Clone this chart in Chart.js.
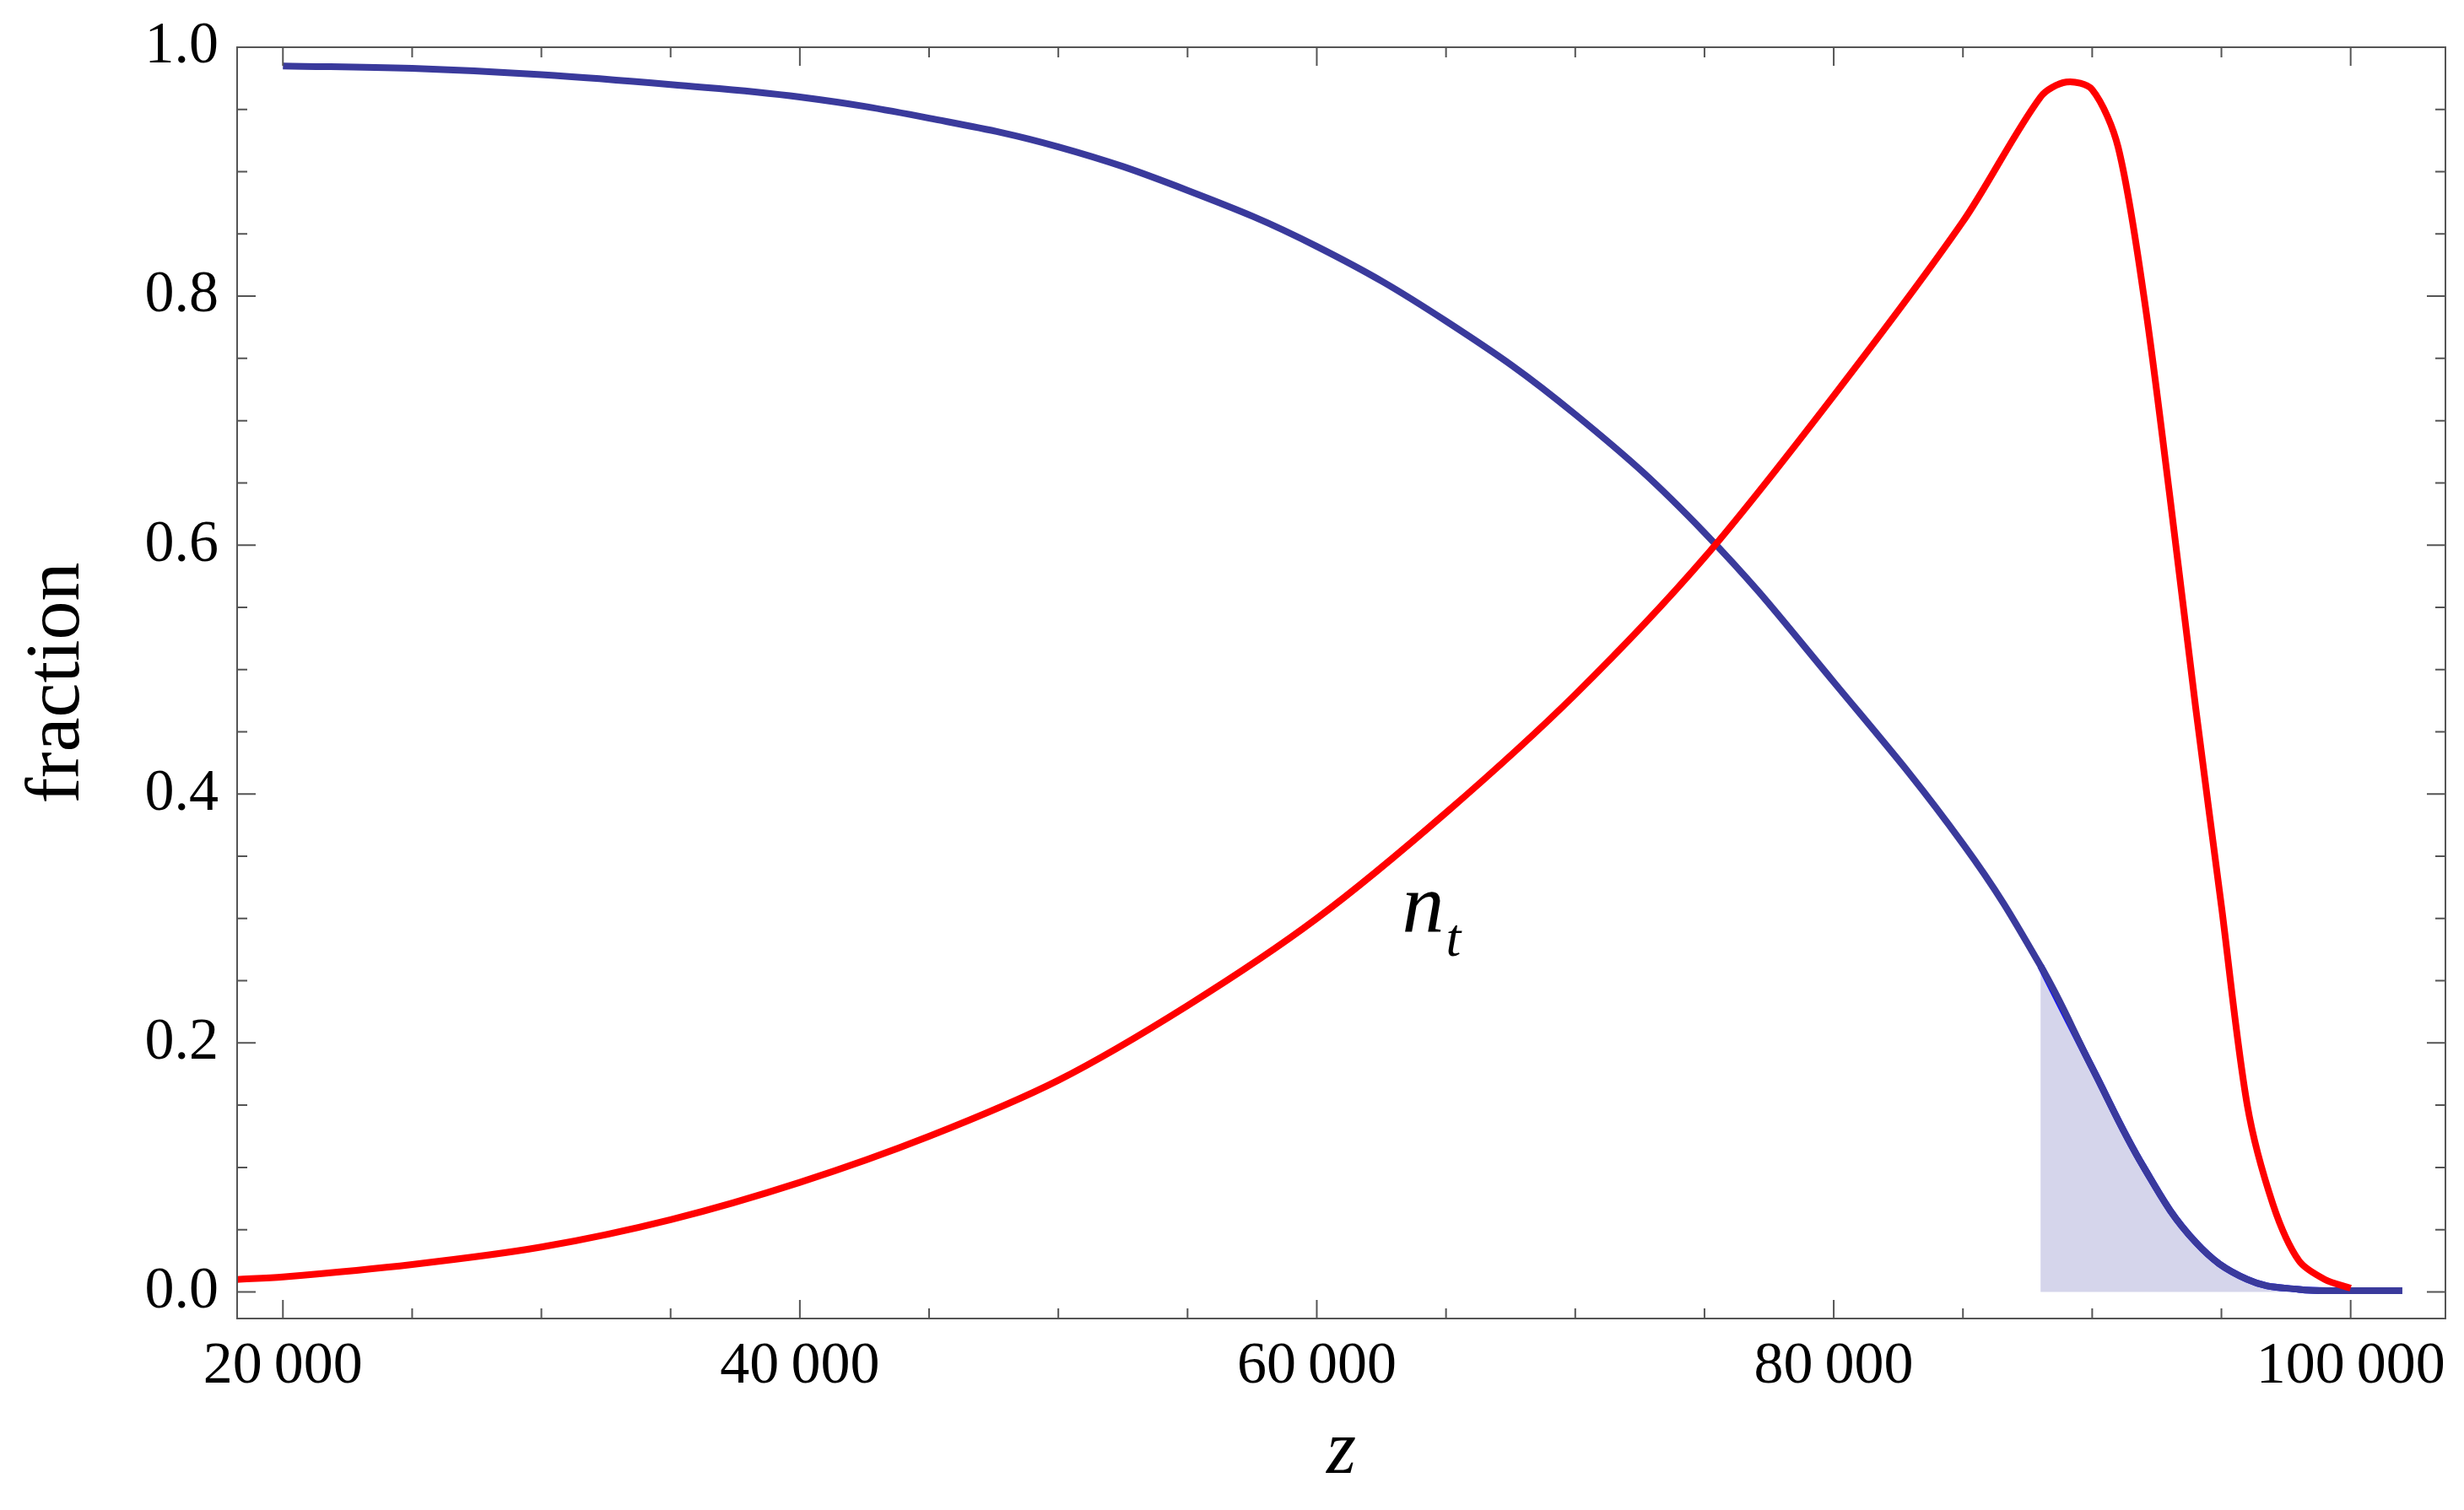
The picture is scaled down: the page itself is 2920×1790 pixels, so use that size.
<!DOCTYPE html>
<html>
<head>
<meta charset="utf-8">
<script src="https://cdn.jsdelivr.net/npm/chart.js@4/dist/chart.umd.min.js"></script>
<style>
  body { margin: 0; background: #fff; }
  #box { width: 2920px; height: 1790px; }
</style>
</head>
<body>
<div id="box"><canvas id="grafico"></canvas></div>
<script>
// values
var blueZ = [20000, 25000, 30000, 35000, 40000, 45000, 50000, 55000, 60000, 65000, 70000, 75000, 80000, 85000, 88000, 90000, 92000, 94000, 96000, 98000, 100000, 102000];
var blueY = [0.985, 0.983, 0.978, 0.970, 0.960, 0.943, 0.920, 0.885, 0.840, 0.780, 0.705, 0.610, 0.490, 0.360, 0.262, 0.180, 0.100, 0.040, 0.010, 0.002, 0.001, 0.001];
var redZ = [18228, 20000, 25000, 30000, 35000, 40000, 45000, 50000, 55000, 60000, 65000, 70000, 75000, 80000, 85000, 88000, 89000, 90000, 91000, 92000, 93000, 94000, 95000, 96000, 97000, 98000, 99000, 100000];
var redY = [0.010, 0.012, 0.022, 0.036, 0.058, 0.088, 0.125, 0.170, 0.230, 0.300, 0.385, 0.480, 0.590, 0.720, 0.860, 0.960, 0.972, 0.966, 0.920, 0.800, 0.640, 0.470, 0.310, 0.150, 0.070, 0.025, 0.010, 0.003];
var shadeStart = 88000;
var xTicks = [20000, 40000, 60000, 80000, 100000];
var yTicks = [0, 0.2, 0.4, 0.6, 0.8, 1.0];

function pts(xs, ys) { return xs.map(function (x, i) { return {x: x, y: ys[i]}; }); }
var shade = pts(blueZ, blueY).filter(function (p) { return p.x >= shadeStart && p.x <= 100000; });

var font = 'Liberation Serif';

var frameTicks = {
    id: 'frameTicks',
    afterDraw: function (chart) {
        var c = chart.ctx, a = chart.chartArea, xs = chart.scales.x, ys = chart.scales.y;
        c.save();
        c.strokeStyle = '#555'; c.lineWidth = 2;
        c.strokeRect(a.left, a.top, a.right - a.left, a.bottom - a.top);
        for (var v = 20000; v <= 100000; v += 5000) {
            var px = xs.getPixelForValue(v), L = v % 20000 === 0 ? 22 : 12;
            c.beginPath(); c.moveTo(px, a.bottom); c.lineTo(px, a.bottom - L);
            c.moveTo(px, a.top); c.lineTo(px, a.top + L); c.stroke();
        }
        for (var k = 0; k <= 20; k++) {
            var py = ys.getPixelForValue(k * 0.05), M = k % 4 === 0 ? 22 : 12;
            c.beginPath(); c.moveTo(a.left, py); c.lineTo(a.left + M, py);
            c.moveTo(a.right, py); c.lineTo(a.right - M, py); c.stroke();
        }
        c.fillStyle = '#000';
        var nx = xs.getPixelForValue(63300);
        c.font = 'italic 100px "' + font + '"';
        c.fillText('n', nx, ys.getPixelForValue(0.29));
        c.font = 'italic 64px "' + font + '"';
        c.fillText('t', nx + 52, ys.getPixelForValue(0.27));
        c.restore();
    }
};

var ctx = document.querySelector('#grafico').getContext('2d');
var chart = new Chart(ctx, {
    type: 'line',
    data: {
        datasets: [
            {data: shade, borderColor: '#1010ff', borderWidth: 8, backgroundColor: 'rgba(190,190,225,0.65)', fill: 'origin', pointRadius: 0, tension: 0.4, order: 3},
            {data: pts(blueZ, blueY), borderColor: '#3a3a9c', borderWidth: 8, fill: false, pointRadius: 0, tension: 0.4, order: 2},
            {data: pts(redZ, redY), borderColor: '#ff0000', borderWidth: 8, fill: false, pointRadius: 0, tension: 0.3, order: 1}
        ]
    },
    options: {
        responsive: true,
        maintainAspectRatio: false,
        animation: false,
        layout: {padding: {top: 41, right: 22, left: 10, bottom: 10}},
        plugins: {legend: {display: false}, tooltip: {enabled: false}},
        scales: {
            x: {
                type: 'linear', min: 18228, max: 103667,
                grid: {display: false}, border: {display: false},
                afterBuildTicks: function (s) { s.ticks = xTicks.map(function (v) { return {value: v}; }); },
                afterFit: function (s) { s.height = 217; },
                ticks: {color: '#000', font: {family: font, size: 70}, padding: 8, maxRotation: 0,
                    callback: function (v) { return String(v).replace(/(\d)(\d{3})$/, '$1\u2009$2'); }},
                title: {display: true, text: 'z', color: '#000', font: {family: font, size: 90, style: 'italic'}, padding: {top: 0}}
            },
            y: {
                min: -0.0214, max: 1.0,
                grid: {display: false}, border: {display: false},
                afterBuildTicks: function (s) { s.ticks = yTicks.map(function (v) { return {value: v}; }); },
                afterFit: function (s) { s.width = 271; },
                ticks: {color: '#000', font: {family: font, size: 70}, padding: 14,
                    callback: function (v) { return v.toFixed(1); }},
                title: {display: true, text: 'fraction', color: '#000', font: {family: font, size: 92}, padding: {bottom: 6}}
            }
        }
    },
    plugins: [frameTicks]
});
</script>
</body>
</html>
